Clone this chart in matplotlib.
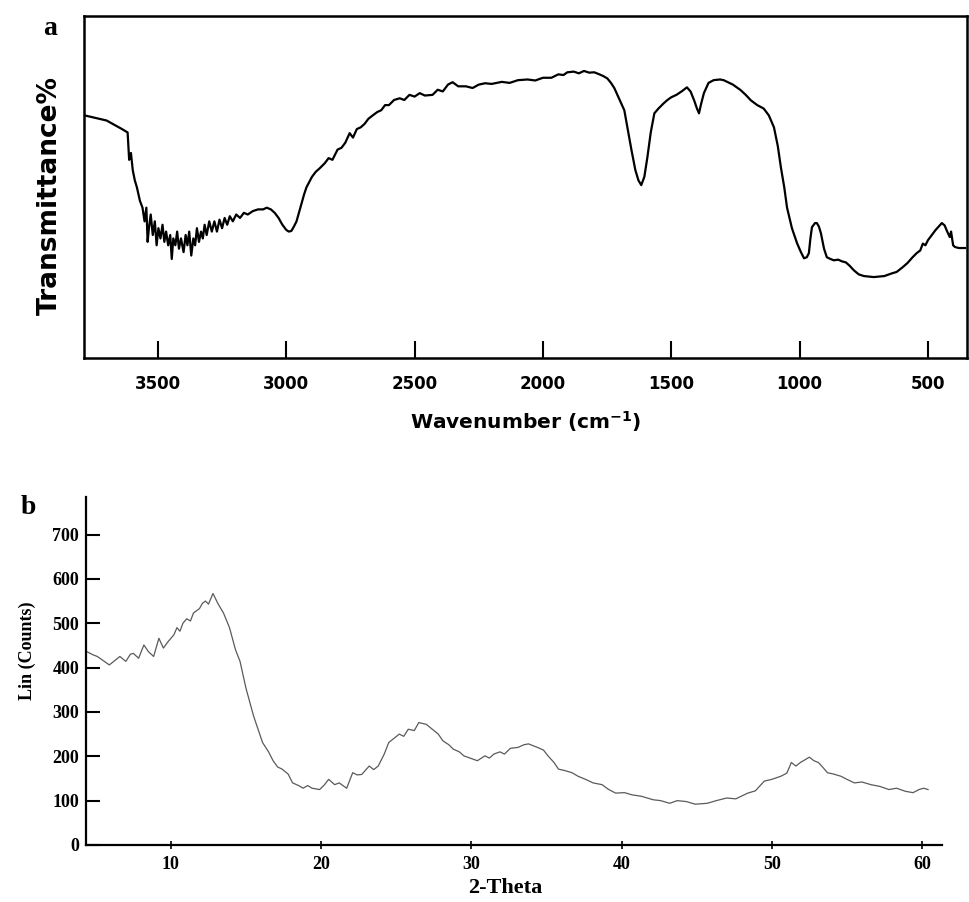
import matplotlib
matplotlib.use("Agg")
import matplotlib.pyplot as plt

# ---- (a) FTIR spectrum ----
wavenumber = [3786, 3700, 3640, 3618, 3612, 3605, 3598, 3590, 3582, 3570, 3560, 3552, 3545,
              3540, 3535, 3528, 3520, 3512, 3505, 3498, 3490, 3482, 3475, 3468, 3460, 3452,
              3446, 3440, 3432, 3425, 3418, 3410, 3400, 3392, 3385, 3378, 3370, 3362, 3355,
              3348, 3340, 3332, 3325, 3318, 3310, 3300, 3290, 3280, 3270, 3260, 3250, 3240,
              3230, 3220, 3208, 3195, 3180, 3165, 3150, 3130, 3110, 3090, 3076, 3060, 3045,
              3030, 3015, 3000, 2990, 2980, 2970, 2960, 2945, 2930, 2921, 2900, 2885, 2870,
              2850, 2835, 2820, 2800, 2785, 2770, 2753, 2740, 2725, 2710, 2695, 2680, 2663,
              2645, 2630, 2615, 2600, 2580, 2558, 2540, 2520, 2500, 2480, 2460, 2430, 2410,
              2390, 2370, 2352, 2330, 2300, 2274, 2250, 2225, 2200, 2160, 2130, 2097, 2060,
              2030, 2000, 1967, 1940, 1920, 1905, 1880, 1860, 1840, 1820, 1800, 1780, 1765,
              1749, 1735, 1722, 1710, 1695, 1683, 1670, 1655, 1640, 1628, 1617, 1605, 1593,
              1580, 1566, 1550, 1530, 1515, 1500, 1480, 1460, 1439, 1425, 1411, 1400, 1392,
              1385, 1373, 1355, 1335, 1310, 1296, 1260, 1230, 1210, 1190, 1165, 1140, 1120,
              1100, 1085, 1073, 1060, 1049, 1030, 1010, 995, 983, 972, 964, 958, 952, 940,
              933, 925, 917, 905, 894, 880, 867, 850, 835, 820, 805, 789, 770, 750, 711,
              670, 640, 622, 600, 580, 560, 544, 530, 520, 510, 500, 485, 470, 458, 446,
              435, 425, 415, 410, 402, 395, 380, 356]
transmittance = [71, 69.5, 67, 66, 58, 60, 55, 52, 50, 46, 44, 40, 44,
                 34, 38, 42, 36, 40, 33, 38, 35, 39, 34, 37, 33, 36,
                 29, 35, 33, 37, 32, 35, 31, 36, 33, 37, 30, 35, 33,
                 38, 34, 37, 35, 39, 36, 40, 37, 40, 37, 40.5, 38, 41,
                 39, 41.5, 40, 42, 41, 42.5, 42, 43, 43.5, 43.5, 44, 43.5, 42.5,
                 41, 39, 37.5, 37, 37.2, 38.5, 40, 44, 48, 50, 53, 54.5, 55.5,
                 57, 58.5, 58, 61, 61.5, 63, 65.8, 64.5, 67, 67.5, 68.5, 70, 71,
                 72, 72.5, 74, 74, 75.5, 76, 75.5, 77, 76.5, 77.5, 76.8, 77, 78.5,
                 78, 80, 80.7, 79.5, 79.5, 79, 80, 80.4, 80.2, 80.8, 80.5, 81.3, 81.5,
                 81.2, 82, 82, 83, 82.8, 83.6, 83.8, 83.3, 84, 83.5, 83.6, 83, 82.5,
                 81.8, 80.5, 79, 77, 74.5, 72.5, 67, 60.8, 55, 52, 50.6, 53, 58.8,
                 66, 71.6, 73, 74.5, 75.5, 76.3, 77, 78, 79.2, 78, 75.4, 73, 71.6,
                 74, 77.5, 80.5, 81.3, 81.5, 81.3, 80, 78.4, 77, 75.4, 74, 73, 71,
                 67.5, 62, 55.8, 50, 44, 38, 33.6, 31, 29.2, 29.5, 30.7, 35, 38.3, 39.5,
                 39.5, 38.5, 36.5, 32, 29.5, 29, 28.6, 28.8, 28.3, 28, 27, 25.7, 24.5, 24, 23.7,
                 24, 24.8, 25.2, 26.5, 27.8, 29.5, 30.7, 31.5, 33.5, 33, 34.5, 36, 37.5, 38.5, 39.5,
                 38.8, 37, 35.4, 37, 33, 32.5, 32.2, 32.2]
ir_ticks = [3500, 3000, 2500, 2000, 1500, 1000, 500]

# ---- (b) XRD pattern ----
two_theta = [4.4, 4.8, 5.1, 5.4, 5.9, 6.3, 6.6, 7.0, 7.3, 7.5, 7.85, 8.2, 8.5, 8.85, 9.2,
             9.5, 9.8, 10.2, 10.4, 10.6, 10.8, 11.05, 11.3, 11.5, 11.7, 11.9, 12.1, 12.3,
             12.5, 12.8, 13.15, 13.5, 13.9, 14.3, 14.6, 15.0, 15.5, 16.1, 16.5, 16.8, 17.1,
             17.4, 17.8, 18.1, 18.5, 18.8, 19.1, 19.4, 19.9, 20.2, 20.5, 20.9, 21.2, 21.7,
             22.1, 22.4, 22.7, 23.2, 23.5, 23.8, 24.2, 24.5, 24.9, 25.2, 25.5, 25.8, 26.2,
             26.5, 27.0, 27.4, 27.8, 28.1, 28.5, 28.8, 29.2, 29.5, 30.0, 30.4, 30.9, 31.2,
             31.5, 31.9, 32.2, 32.6, 33.1, 33.5, 33.8, 34.1, 34.4, 34.8, 35.1, 35.5, 35.8,
             36.2, 36.7, 37.1, 37.6, 38.1, 38.7, 39.1, 39.6, 40.2, 40.7, 41.3, 42.1, 42.6,
             43.2, 43.7, 44.3, 44.9, 45.7, 46.3, 47.0, 47.6, 48.4, 48.9, 49.5, 50.0, 50.6,
             51.0, 51.3, 51.6, 51.9, 52.2, 52.5, 52.8, 53.1, 53.4, 53.7, 54.1, 54.6, 55.0,
             55.5, 56.0, 56.6, 57.2, 57.8, 58.3, 58.9, 59.4, 59.8, 60.1, 60.4]
lin_counts = [436, 429, 425, 418, 406, 417, 425, 414, 430, 432, 421, 451, 436, 425, 466,
              444, 458, 474, 490, 482, 500, 510, 505, 523, 528, 533, 545, 550,
              543, 567, 543, 523, 490, 440, 414, 353, 291, 231, 210, 190, 176,
              171, 160, 140, 134, 128, 134, 128, 125, 135, 148, 136, 140, 128,
              163, 158, 159, 178, 170, 178, 205, 231, 242, 250, 245, 261, 258,
              276, 272, 261, 250, 235, 226, 216, 210, 201, 195, 190, 201, 196,
              205, 210, 205, 218, 220, 226, 228, 224, 220, 214, 201, 186, 171,
              168, 163, 155, 148, 140, 136, 126, 117, 118, 113, 110, 102, 100,
              94, 100, 98, 92, 94, 100, 106, 104, 117, 122, 144, 148, 155,
              162, 186, 178, 186, 192, 198, 190, 186, 175, 163, 160, 155, 148,
              140, 142, 136, 132, 125, 128, 121, 118, 125, 128, 125]
xrd_xticks = [10, 20, 30, 40, 50, 60]
xrd_yticks = [0, 100, 200, 300, 400, 500, 600, 700]

fig = plt.figure(figsize=(9.7, 9.02), dpi=100)

# ---------- panel a ----------
ax1 = fig.add_axes([0.0871, 0.603, 0.9098, 0.379])
ax1.plot(wavenumber, transmittance, color="black", lw=1.6)
ax1.set_xlim(3786, 348)
ax1.set_ylim(0, 100)
ax1.set_xticks(ir_ticks)
ax1.set_yticks([])
ax1.tick_params(axis="x", direction="in", length=12, width=1.5, pad=12,
                labelsize=12)
for lab in ax1.get_xticklabels():
    lab.set_fontweight("bold")
for sp in ax1.spines.values():
    sp.set_linewidth(1.8)
ax1.set_xlabel(r"Wavenumber (cm$^{\mathbf{-1}}$)", fontsize=14.5, fontweight="bold",
               labelpad=12)
ax1.set_ylabel("Transmittance%", fontsize=19, fontweight="bold")
ax1.yaxis.set_label_coords(-0.024, 0.477)
fig.text(0.052, 0.968, "a", fontsize=20, fontweight="bold", family="Liberation Serif",
         ha="center", va="center")

# ---------- panel b ----------
ax2 = fig.add_axes([0.0887, 0.0632, 0.882, 0.386])
ax2.plot(two_theta, lin_counts, color="#5a5a5a", lw=0.9)
ax2.set_xlim(4.35, 61.3)
ax2.set_ylim(0, 785)
ax2.set_xticks(xrd_xticks)
ax2.set_yticks(xrd_yticks)
ax2.spines["top"].set_visible(False)
ax2.spines["right"].set_visible(False)
ax2.spines["left"].set_linewidth(1.6)
ax2.spines["bottom"].set_linewidth(1.6)
ax2.tick_params(axis="y", direction="in", length=10, width=1.5, pad=5)
ax2.tick_params(axis="x", direction="inout", length=6, width=1.2, pad=5)
for lab in ax2.get_xticklabels() + ax2.get_yticklabels():
    lab.set_fontfamily("Liberation Serif")
    lab.set_fontweight("bold")
    lab.set_fontsize(13)
ax2.set_xlabel("2-Theta", fontsize=16, fontweight="bold", family="Liberation Serif")
ax2.xaxis.set_label_coords(0.49, -0.095)
ax2.set_ylabel("Lin (Counts)", fontsize=13, fontweight="bold", family="Liberation Serif")
ax2.yaxis.set_label_coords(-0.058, 0.557)
fig.text(0.029, 0.437, "b", fontsize=20, fontweight="bold", family="Liberation Serif",
         ha="center", va="center")

fig.savefig("out.png", dpi=100)
